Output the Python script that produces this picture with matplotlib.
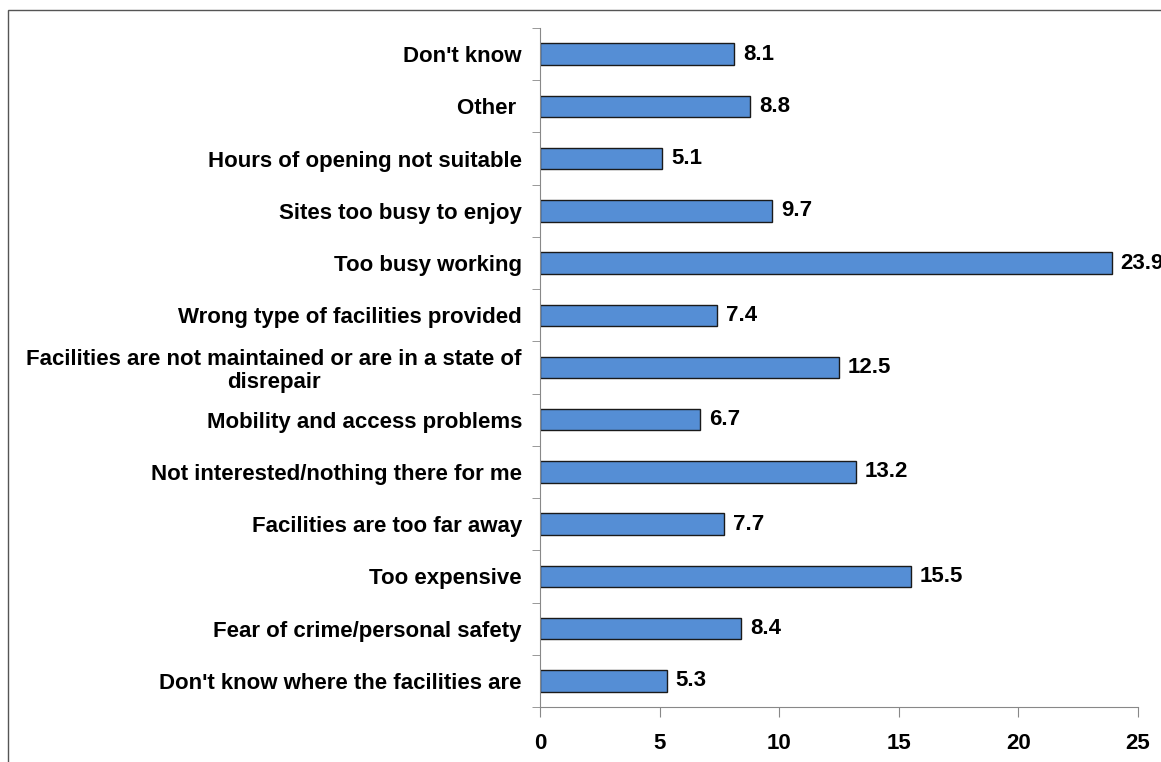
import matplotlib
matplotlib.use("Agg")
import matplotlib.pyplot as plt
from matplotlib.patches import Rectangle

categories = [
    "Don't know",
    "Other ",
    "Hours of opening not suitable",
    "Sites too busy to enjoy",
    "Too busy working",
    "Wrong type of facilities provided",
    "Facilities are not maintained or are in a state of\ndisrepair",
    "Mobility and access problems",
    "Not interested/nothing there for me",
    "Facilities are too far away",
    "Too expensive",
    "Fear of crime/personal safety",
    "Don't know where the facilities are",
]
values = [8.1, 8.8, 5.1, 9.7, 23.9, 7.4, 12.5, 6.7, 13.2, 7.7, 15.5, 8.4, 5.3]
xticks = [0, 5, 10, 15, 20, 25]

plt.rcParams["font.family"] = ["Liberation Sans", "DejaVu Sans"]
plt.rcParams["font.weight"] = "bold"
FS = 16

W, H = 1161, 762
fig = plt.figure(figsize=(W / 100, H / 100), dpi=100)
# outer chart frame (left and top edges visible; right/bottom run off the image)
fig.patches.append(Rectangle((8 / W, -0.1), 1.2, 1.1 - 10 / H,
                             transform=fig.transFigure, fill=False,
                             edgecolor="#555555", linewidth=1.0))

ax = fig.add_axes([540 / W, 1 - 707 / H, (1138 - 540) / W, (707 - 28) / H])
n = len(categories)
pos = list(range(n))[::-1]
ax.barh(pos, values, height=0.41, color="#558ed5", edgecolor="#1a1a1a", linewidth=1.0)
for p, v in zip(pos, values):
    ax.annotate(f"{v}", xy=(v, p), xytext=(6.5, 0), textcoords="offset points",
                va="center", ha="left", fontsize=FS, fontweight="bold",
                annotation_clip=False)

ax.set_xlim(0, 25)
ax.set_ylim(-0.5, n - 0.5)
ax.set_xticks(xticks)
ax.set_xticklabels([str(t) for t in xticks], fontsize=FS, fontweight="bold")
ax.set_yticks(pos)
ax.set_yticklabels(categories, fontsize=FS, fontweight="bold", ha="right",
                   multialignment="center", linespacing=1.1)
ax.tick_params(axis="y", which="major", length=0, pad=13)

# category boundary ticks on the y axis
ax.set_yticks([i - 0.5 for i in range(n + 1)], minor=True)
ax.tick_params(axis="y", which="minor", length=6, direction="out", color="#888888")
ax.tick_params(axis="x", length=7, direction="out", color="#888888", pad=12)

for s in ["top", "right"]:
    ax.spines[s].set_visible(False)
ax.spines["left"].set_color("#888888")
ax.spines["bottom"].set_color("#888888")

fig.savefig("out.png", dpi=100)
